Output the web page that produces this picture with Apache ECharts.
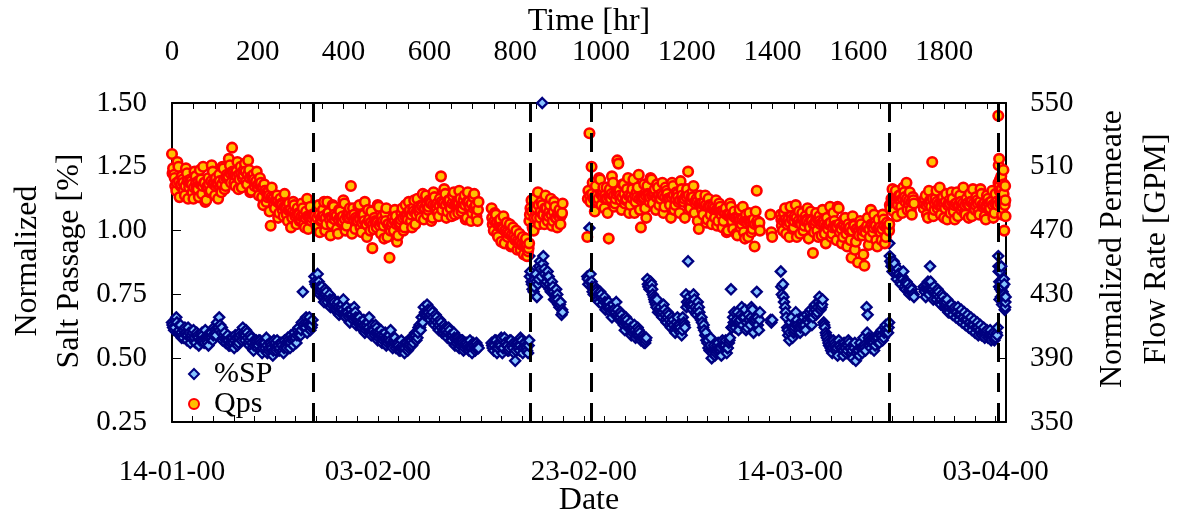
<!DOCTYPE html>
<html>
<head>
<meta charset="utf-8">
<script src="https://cdn.jsdelivr.net/npm/echarts/dist/echarts.min.js"></script>
<style>
  html, body { margin: 0; padding: 0; background: #fff; }
  #chart { width: 1177px; height: 517px; }
</style>
</head>
<body>
<div id="chart"></div>
<script>
// Logging runs: start hour and sampling step of each continuous run of readings.
// Each run has a primary set of readings plus two interleaved sets taken within the same step.
const runStart = [0, 332, 745, 833, 968, 1395, 1419, 1672, 1752, 1926];
const runStep  = [5, 5, 5, 5, 5, 2, 5, 5, 5, 2];

// Normalized salt passage [%] per run
const spRun1 = [0.64,0.61,0.66,0.60,0.63,0.59,0.62,0.57,0.60,0.58,
  0.61,0.56,0.59,0.57,0.60,0.56,0.58,0.55,0.59,0.57,
  0.61,0.64,0.66,0.60,0.58,0.56,0.59,0.55,0.57,0.54,
  0.58,0.56,0.59,0.62,0.57,0.60,0.55,0.58,0.53,0.56,
  0.54,0.57,0.52,0.55,0.58,0.53,0.56,0.51,0.55,0.57,
  0.53,0.56,0.52,0.55,0.58,0.54,0.57,0.60,0.56,0.62,
  0.59,0.76,0.64,0.60,0.66,0.62];
const spRun2 = [0.82,0.78,0.80,0.76,0.74,0.77,0.72,0.75,0.71,0.73,
  0.69,0.72,0.68,0.71,0.67,0.70,0.66,0.69,0.65,0.68,
  0.64,0.66,0.62,0.65,0.61,0.64,0.60,0.63,0.59,0.62,
  0.58,0.61,0.57,0.60,0.56,0.59,0.55,0.57,0.54,0.56,
  0.53,0.55,0.52,0.56,0.54,0.58,0.56,0.60,0.58,0.63,
  0.66,0.70,0.67,0.69,0.65,0.68,0.63,0.66,0.61,0.64,
  0.60,0.62,0.58,0.61,0.57,0.60,0.56,0.58,0.55,0.57,
  0.54,0.56,0.53,0.55,0.56,0.53,0.55];
const spRun3 = [0.56,0.53,0.57,0.54,0.56,0.52,0.58,0.55,0.53,0.57,0.54,0.49,0.56,0.53,0.57,0.54,0.55,0.52];
const spRun4 = [0.90,0.80,0.76,0.83,0.79,0.88,1.50,0.85,0.80,0.82,0.76,0.78,0.73,0.75,0.70,0.67];
const spRun5 = [0.82,1.01,0.80,0.75,0.77,0.73,0.76,0.71,0.74,0.70,
  0.72,0.68,0.71,0.67,0.69,0.65,0.67,0.63,0.66,0.62,
  0.64,0.60,0.63,0.59,0.61,0.57,0.59,0.56,0.81,0.77,
  0.79,0.74,0.71,0.68,0.70,0.66,0.69,0.64,0.67,0.62,
  0.65,0.60,0.66,0.63,0.59,0.64,0.75,0.88,0.72,0.69,
  0.73,0.67,0.70,0.65,0.62,0.59,0.56,0.53,0.50,0.55,
  0.52,0.56,0.53,0.57,0.54,0.52,0.56,0.77,0.66,0.62,
  0.68,0.64,0.70,0.66,0.61,0.67,0.63,0.69,0.64,0.76,
  0.61];
const spRun6 = [0.65,0.64,0.65];
const spRun7 = [0.84,0.79,0.70,0.62,0.57,0.66,0.60,0.68,0.63,0.60,
  0.64,0.62,0.67,0.64,0.69,0.66,0.71,0.68,0.74,0.70,
  0.64,0.60,0.57,0.55,0.52,0.56,0.53,0.57,0.54,0.51,
  0.55,0.53,0.56,0.52,0.55,0.49,0.53,0.56,0.52,0.55,
  0.70,0.58,0.54,0.57,0.55,0.59,0.56,0.61,0.58,0.63,
  0.60];
const spRun8 = [0.95,0.86,0.88,0.83,0.85,0.80,0.82,0.78,0.80,0.76,0.78,0.75];
const spRun9 = [0.78,0.74,0.80,0.86,0.76,0.78,0.73,0.76,0.71,0.74,
  0.70,0.73,0.68,0.71,0.69,0.66,0.70,0.67,0.64,0.68,
  0.65,0.62,0.66,0.63,0.60,0.64,0.61,0.59,0.62,0.60,
  0.58,0.61,0.59,0.57,0.60];
const spRun10 = [0.90,0.78,0.84,0.74,0.80,0.76,0.72,0.79,0.70];

// Second interleaved salt passage set (half a step after each primary reading)
const spRun1b = [0.62,0.65,0.60,0.63,0.58,0.61,0.59,0.62,0.56,0.60,
  0.58,0.60,0.55,0.59,0.57,0.61,0.56,0.60,0.58,0.62,
  0.59,0.62,0.63,0.57,0.60,0.57,0.55,0.58,0.56,0.59,
  0.55,0.60,0.57,0.59,0.61,0.56,0.59,0.54,0.57,0.55,
  0.57,0.53,0.56,0.54,0.52,0.56,0.54,0.57,0.53,0.55,
  0.56,0.53,0.57,0.54,0.56,0.59,0.55,0.58,0.61,0.59,
  0.64,0.62,0.66,0.63,0.61,0.65];
const spRun2b = [0.79,0.83,0.75,0.78,0.72,0.76,0.74,0.70,0.73,0.69,
  0.71,0.67,0.70,0.73,0.66,0.68,0.64,0.67,0.70,0.63,
  0.66,0.62,0.64,0.60,0.63,0.66,0.59,0.61,0.63,0.57,
  0.60,0.56,0.59,0.55,0.58,0.61,0.54,0.58,0.56,0.53,
  0.57,0.54,0.56,0.53,0.57,0.55,0.59,0.57,0.62,0.61,
  0.64,0.68,0.71,0.66,0.69,0.64,0.67,0.62,0.65,0.60,
  0.63,0.59,0.62,0.57,0.59,0.55,0.58,0.54,0.57,0.53,
  0.56,0.54,0.57,0.52,0.54,0.56,0.54];
const spRun3b = [0.54,0.57,0.52,0.55,0.58,0.54,0.56,0.53,0.57,0.55,0.52,0.56,0.54,0.58,0.52,0.56,0.53,0.57];
const spRun4b = [0.84,0.77,0.81,0.74,0.86,0.82,0.90,0.79,0.84,0.77,0.80,0.73,0.77,0.71,0.72,0.68];
const spRun5b = [0.79,0.83,0.76,0.78,0.74,0.72,0.75,0.73,0.69,0.72,
  0.70,0.66,0.69,0.72,0.66,0.68,0.64,0.61,0.65,0.63,
  0.59,0.62,0.58,0.62,0.60,0.58,0.56,0.58,0.78,0.80,
  0.75,0.72,0.73,0.69,0.67,0.71,0.65,0.68,0.63,0.66,
  0.61,0.64,0.62,0.60,0.66,0.62,0.72,0.74,0.70,0.75,
  0.68,0.72,0.66,0.64,0.61,0.57,0.54,0.58,0.52,0.51,
  0.55,0.53,0.51,0.55,0.57,0.54,0.58,0.62,0.68,0.65,
  0.61,0.67,0.63,0.69,0.62,0.65,0.70,0.60,0.66,0.63,
  0.68];
const spRun6b = [];
const spRun7b = [0.75,0.72,0.66,0.59,0.64,0.58,0.62,0.65,0.61,0.63,
  0.66,0.61,0.65,0.68,0.63,0.70,0.67,0.72,0.69,0.73,
  0.62,0.58,0.55,0.53,0.57,0.54,0.51,0.55,0.53,0.56,
  0.52,0.57,0.54,0.50,0.56,0.53,0.51,0.54,0.58,0.53,
  0.67,0.55,0.57,0.53,0.58,0.56,0.60,0.57,0.62,0.60,
  0.64];
const spRun8b = [0.88,0.84,0.87,0.81,0.83,0.79,0.84,0.77,0.79,0.75,0.77,0.74];
const spRun9b = [0.76,0.79,0.75,0.77,0.73,0.75,0.77,0.72,0.75,0.70,
  0.72,0.68,0.71,0.67,0.70,0.68,0.65,0.69,0.66,0.63,
  0.67,0.64,0.61,0.65,0.62,0.59,0.63,0.60,0.58,0.61,
  0.59,0.57,0.60,0.58,0.62];
const spRun10b = [0.84,0.73,0.77,0.86,0.71,0.75,0.81,0.69,0.74];

// Third interleaved salt passage set (a quarter step after each primary reading)
const spRun1c = [0.63,0.62,0.64,0.61,0.60,0.58,0.60,0.59,0.58,0.59,
  0.57,0.59,0.58,0.57,0.59,0.58,0.57,0.58,0.60,0.59,
  0.60,0.62,0.61,0.62,0.59,0.58,0.57,0.56,0.58,0.57,
  0.56,0.58,0.57,0.60,0.59,0.58,0.57,0.56,0.55,0.57,
  0.55,0.56,0.54,0.56,0.55,0.54,0.55,0.53,0.56,0.55,
  0.54,0.55,0.54,0.56,0.57,0.56,0.58,0.57,0.59,0.60,
  0.61,0.63,0.62,0.64,0.63,0.63];
const spRun2c = [0.80,0.79,0.78,0.77,0.75,0.75,0.74,0.73,0.72,0.72,
  0.70,0.70,0.69,0.69,0.68,0.68,0.67,0.67,0.66,0.66,
  0.65,0.64,0.63,0.63,0.62,0.62,0.61,0.61,0.60,0.60,
  0.59,0.59,0.58,0.58,0.57,0.57,0.56,0.56,0.55,0.55,
  0.54,0.54,0.54,0.55,0.55,0.57,0.58,0.59,0.60,0.62,
  0.64,0.67,0.68,0.68,0.67,0.66,0.65,0.64,0.63,0.62,
  0.61,0.61,0.60,0.59,0.59,0.58,0.57,0.57,0.56,0.56,
  0.55,0.55,0.54,0.54,0.55,0.54,0.54];
const spRun3c = [0.55,0.55,0.54,0.56,0.55,0.54,0.56,0.55,0.54,0.55,0.56,0.53,0.55,0.55,0.54,0.56,0.54,0.55];
const spRun4c = [0.82,0.79,0.78,0.80,0.81,0.85,0.87,0.83,0.82,0.79,0.78,0.76,0.75,0.73,0.71,0.69];
const spRun5c = [0.81,0.80,0.78,0.77,0.76,0.75,0.74,0.73,0.72,0.71,
  0.70,0.69,0.69,0.68,0.67,0.66,0.65,0.64,0.64,0.63,
  0.62,0.61,0.61,0.60,0.59,0.58,0.58,0.57,0.79,0.78,
  0.77,0.73,0.70,0.69,0.68,0.68,0.67,0.66,0.65,0.64,
  0.63,0.62,0.63,0.62,0.61,0.63,0.70,0.71,0.71,0.71,
  0.70,0.69,0.68,0.66,0.63,0.60,0.57,0.55,0.53,0.53,
  0.53,0.54,0.54,0.55,0.55,0.54,0.57,0.62,0.64,0.64,
  0.64,0.65,0.66,0.66,0.64,0.65,0.66,0.65,0.65,0.66,
  0.65];
const spRun6c = [];
const spRun7c = [0.78,0.74,0.68,0.61,0.60,0.62,0.61,0.63,0.62,0.62,
  0.63,0.63,0.65,0.66,0.66,0.68,0.69,0.70,0.71,0.71,
  0.63,0.59,0.56,0.54,0.54,0.55,0.54,0.55,0.54,0.53,
  0.54,0.55,0.54,0.53,0.54,0.52,0.53,0.54,0.54,0.54,
  0.60,0.57,0.56,0.56,0.57,0.58,0.59,0.59,0.60,0.61,
  0.62];
const spRun8c = [0.90,0.87,0.86,0.84,0.83,0.82,0.81,0.80,0.79,0.77,0.76,0.75];
const spRun9c = [0.77,0.77,0.77,0.80,0.77,0.76,0.75,0.74,0.73,0.72,
  0.71,0.70,0.70,0.69,0.69,0.68,0.67,0.67,0.66,0.65,
  0.65,0.64,0.63,0.63,0.62,0.62,0.61,0.60,0.60,0.60,
  0.59,0.59,0.59,0.58,0.59];
const spRun10c = [0.86,0.80,0.78,0.77,0.76,0.78,0.75,0.74,0.72];

// Normalized permeate flow rate [GPM] per run
const qpRun1 = [518,505,495,510,498,502,492,506,497,501,
  490,504,496,508,493,500,489,503,495,507,
  492,499,505,494,509,498,503,511,522,500,
  507,496,510,503,512,499,508,495,505,500,
  497,503,491,499,488,494,473,490,484,492,
  481,487,479,485,476,483,478,486,474,481,
  477,484,472,490,479,476];
const qpRun2 = [480,472,486,476,483,470,488,478,474,485,
  479,468,482,476,487,473,480,498,484,471,
  477,486,469,480,474,483,470,459,478,472,
  485,468,476,481,466,453,473,470,479,467,
  475,484,472,480,488,476,484,474,490,481,
  486,477,492,483,488,478,491,484,479,504,
  487,493,482,489,479,494,486,481,490,484,
  492,478,488,476,491,485,476];
const qpRun3 = [484,470,480,466,477,472,462,475,468,460,472,464,458,468,461,455,465,457];
const qpRun4 = [476,489,470,482,494,478,486,474,484,479,490,476,485,472,483,480];
const qpRun5 = [466,531,510,490,498,488,502,493,484,497,
  465,490,500,487,514,495,483,499,489,503,
  486,496,481,494,505,472,490,484,498,488,
  502,493,483,497,490,500,485,495,489,478,
  498,486,493,481,496,488,492,507,484,494,
  481,490,471,487,480,492,477,486,474,483,
  489,476,485,472,481,469,479,485,471,478,
  467,483,474,469,480,466,476,471,460,495,
  473];
const qpRun6 = [480,469,466];
const qpRun7 = [480,470,484,474,466,479,472,486,475,468,
  481,473,477,465,482,456,474,470,479,467,
  476,462,471,485,468,476,464,484,472,466,
  478,460,470,453,474,463,450,476,467,448,
  472,461,483,469,475,460,471,464,477,466,
  473];
const qpRun8 = [474,490,482,495,486,492,481,494,500,487,483,491];
const qpRun9 = [484,492,478,489,513,483,495,486,480,491,
  484,477,489,494,482,487,479,492,485,481,
  490,478,488,496,483,489,480,493,486,477,
  490,484,495,481,488];
const qpRun10 = [542,515,502,490,496,484,508,470,498];

// Second interleaved permeate flow set
const qpRun1b = [509,498,513,491,504,495,509,490,502,494,
  507,497,491,502,510,488,498,494,511,499,
  503,490,497,510,496,505,515,500,506,498,
  513,502,497,508,501,514,494,503,498,507,
  492,500,486,495,491,482,497,486,489,478,
  490,483,493,480,487,472,488,479,484,476,
  487,474,482,471,485,480];
const qpRun2b = [475,484,469,479,488,474,481,467,486,477,
  471,483,475,489,470,478,484,468,480,476,
  485,472,479,488,466,477,482,471,475,486,
  473,479,465,484,474,470,478,483,463,474,
  481,470,486,477,483,472,489,480,485,478,
  493,484,480,489,476,494,486,481,490,483,
  496,478,489,484,492,480,487,495,482,489,
  477,494,485,481,493,479,488];
const qpRun3b = [474,481,468,476,463,479,470,466,474,461,467,470,462,458,466,460,454,462];
const qpRun4b = [484,472,490,478,474,488,480,492,476,486,473,488,478,481,474,487];
const qpRun5b = [495,488,500,482,492,503,486,497,490,481,
  496,504,485,493,512,489,499,487,496,481,
  492,502,488,497,483,491,499,478,492,503,
  487,496,499,486,493,481,497,490,486,500,
  483,494,488,501,489,478,496,485,491,498,
  487,476,492,483,488,475,490,480,485,478,
  473,487,480,476,484,470,487,476,482,468,
  478,472,485,465,475,481,469,477,482,474,
  470];
const qpRun6b = [];
const qpRun7b = [473,481,468,477,485,471,479,466,482,474,
  470,479,484,472,476,469,481,466,474,483,
  468,478,474,466,481,472,485,469,462,477,
  468,474,464,479,458,471,467,474,455,469,
  478,466,473,480,464,477,469,480,462,475,
  470];
const qpRun8b = [484,496,488,479,492,485,497,488,483,494,480,487];
const qpRun9b = [490,480,495,485,479,490,484,497,488,478,
  493,486,481,490,477,494,486,483,497,480,
  487,493,479,485,491,482,496,485,479,492,
  483,488,478,493,486];
const qpRun10b = [511,495,487,504,480,493,499,486,479];

// Third interleaved permeate flow set
const qpRun1c = [506,503,500,501,499,500,498,501,500,499,
  497,500,501,499,498,500,497,499,501,500,
  498,500,501,499,502,503,504,506,507,505,
  504,505,506,505,507,505,503,504,502,501,
  499,498,497,495,494,492,491,490,489,488,
  487,486,485,484,483,483,482,481,480,480,
  479,479,478,479,478,478];
const qpRun2c = [479,478,480,477,479,478,481,477,478,480,
  479,477,478,479,477,480,478,479,477,478,
  476,477,475,476,474,476,475,474,476,475,
  474,475,473,476,474,472,475,476,474,475,
  477,478,479,480,481,480,482,481,483,484,
  485,484,486,485,487,486,485,487,486,488,
  487,486,488,485,487,486,488,487,485,487,
  486,488,485,487,484,486,483];
const qpRun3c = [478,476,475,473,472,471,470,469,468,467,466,465,464,463,462,461,460,459];
const qpRun4c = [480,482,478,484,486,482,480,484,479,482,480,482,478,480,478,481];
const qpRun5c = [490,492,493,491,492,490,493,491,492,490,
  491,493,492,490,494,492,491,493,490,492,
  491,490,492,491,490,489,491,492,493,491,
  492,493,491,492,490,492,491,493,490,491,
  492,490,491,489,492,490,491,492,489,491,
  488,488,487,487,486,486,485,485,484,484,
  483,483,482,482,481,480,480,479,479,478,
  478,477,477,476,476,476,475,475,474,476,
  475];
const qpRun6c = [];
const qpRun7c = [477,476,477,476,475,477,476,478,476,475,
  477,476,476,475,477,474,476,477,476,475,
  474,473,474,475,472,473,472,474,471,473,
  472,471,472,470,473,471,470,472,470,471,
  473,471,474,472,473,471,472,471,473,472,
  472];
const qpRun8c = [486,488,489,488,490,489,490,491,490,489,488,489];
const qpRun9c = [487,486,487,488,490,487,488,487,486,487,
  488,486,487,488,486,487,486,488,487,486,
  487,486,488,487,486,487,488,486,487,486,
  487,488,486,487,488];
const qpRun10c = [500,498,495,494,492,490,493,488,489];

// Hours at which operating periods change (dashed markers)
const breakHours = [329, 834, 978, 1672, 1926];

// Axis tick labels
const dateLabels = ['14-01-00', '03-02-00', '23-02-00', '14-03-00', '03-04-00'];
const dateLabelStepHr = 480;
const timeLabelStepHr = 200;

const spRuns  = [spRun1, spRun2, spRun3, spRun4, spRun5, spRun6, spRun7, spRun8, spRun9, spRun10];
const spRunsB = [spRun1b, spRun2b, spRun3b, spRun4b, spRun5b, spRun6b, spRun7b, spRun8b, spRun9b, spRun10b];
const spRunsC = [spRun1c, spRun2c, spRun3c, spRun4c, spRun5c, spRun6c, spRun7c, spRun8c, spRun9c, spRun10c];
const qpRuns  = [qpRun1, qpRun2, qpRun3, qpRun4, qpRun5, qpRun6, qpRun7, qpRun8, qpRun9, qpRun10];
const qpRunsB = [qpRun1b, qpRun2b, qpRun3b, qpRun4b, qpRun5b, qpRun6b, qpRun7b, qpRun8b, qpRun9b, qpRun10b];
const qpRunsC = [qpRun1c, qpRun2c, qpRun3c, qpRun4c, qpRun5c, qpRun6c, qpRun7c, qpRun8c, qpRun9c, qpRun10c];

// sets: list of [runs, fraction of the step at which that set was logged].
// Points are emitted in time order so later readings overlap earlier ones.
function toPoints(sets) {
  const pts = [];
  runStart.forEach((start, k) => {
    const n = Math.max(...sets.map(([runs]) => runs[k].length));
    for (let i = 0; i < n; i++) {
      sets.forEach(([runs, frac]) => {
        if (i < runs[k].length) pts.push([start + runStep[k] * (i + frac), runs[k][i]]);
      });
    }
  });
  return pts;
}

const FONT = '"Liberation Serif", "Times New Roman", serif';
const black = '#000';

const axisCommon = {
  type: 'value',
  splitLine: { show: false },
  axisLine: { show: true, onZero: false, lineStyle: { color: black, width: 2 } },
  axisTick: { show: true, inside: true, length: 6, lineStyle: { color: black, width: 1 } }
};

const chart = echarts.init(document.getElementById('chart'), null, { renderer: 'canvas' });

chart.setOption({
  animation: false,
  backgroundColor: '#fff',
  grid: { left: 172, right: 171, top: 103, bottom: 95, outerBoundsMode: 'none' },
  legend: {
    data: ['%SP', 'Qps'],
    orient: 'vertical',
    left: 188,
    top: 359,
    padding: 0,
    itemGap: 0,
    itemWidth: 10,
    itemHeight: 10,
    selectedMode: false,
    textStyle: { fontFamily: FONT, fontSize: 30, color: black, lineHeight: 26, padding: [0, 0, 0, 10] }
  },
  xAxis: [
    Object.assign({}, axisCommon, {
      position: 'bottom', min: 0, max: 1944, interval: 48,
      axisLabel: {
        margin: 36, color: black, fontFamily: FONT, fontSize: 29,
        formatter: v => (v % dateLabelStepHr === 0 ? dateLabels[v / dateLabelStepHr] : '')
      }
    }),
    Object.assign({}, axisCommon, {
      position: 'top', min: 0, max: 1944, interval: 50,
      axisLabel: {
        margin: 36, color: black, fontFamily: FONT, fontSize: 29,
        formatter: v => (v % timeLabelStepHr === 0 ? String(v) : '')
      }
    })
  ],
  yAxis: [
    Object.assign({}, axisCommon, {
      position: 'left', min: 0.25, max: 1.5, interval: 0.25,
      axisTick: { show: true, inside: true, length: 9, lineStyle: { color: black, width: 1 } },
      axisLabel: { margin: 25, color: black, fontFamily: FONT, fontSize: 29, formatter: v => v.toFixed(2) }
    }),
    Object.assign({}, axisCommon, {
      position: 'right', min: 350, max: 550, interval: 40,
      axisTick: { show: true, inside: true, length: 9, lineStyle: { color: black, width: 1 } },
      axisLabel: { margin: 24, color: black, fontFamily: FONT, fontSize: 29 }
    })
  ],
  graphic: [
    { type: 'text', x: 589, y: 22, silent: true,
      style: { text: 'Time [hr]', fontFamily: FONT, fontSize: 32, fill: black,
               textAlign: 'center', textVerticalAlign: 'middle', align: 'center', verticalAlign: 'middle' } },
    { type: 'text', x: 589, y: 501, silent: true,
      style: { text: 'Date', fontFamily: FONT, fontSize: 32, fill: black,
               textAlign: 'center', textVerticalAlign: 'middle', align: 'center', verticalAlign: 'middle' } },
    { type: 'text', x: 49, y: 261, rotation: Math.PI / 2, silent: true,
      style: { text: 'Normalized\nSalt Passage [%]', fontFamily: FONT, fontSize: 32, lineHeight: 42, fill: black,
               textAlign: 'center', textVerticalAlign: 'middle', align: 'center', verticalAlign: 'middle' } },
    { type: 'text', x: 1135, y: 249, rotation: Math.PI / 2, silent: true,
      style: { text: 'Normalized Permeate\nFlow Rate [GPM]', fontFamily: FONT, fontSize: 32, lineHeight: 44, fill: black,
               textAlign: 'center', textVerticalAlign: 'middle', align: 'center', verticalAlign: 'middle' } }
  ],
  series: [
    {
      name: '%SP', type: 'scatter', xAxisIndex: 0, yAxisIndex: 0,
      data: toPoints([[spRuns, 0], [spRunsC, 0.25], [spRunsB, 0.5]]),
      symbol: 'diamond', symbolSize: 10,
      itemStyle: { color: '#86C3FF', borderColor: '#000080', borderWidth: 2.4, opacity: 1 },
      emphasis: { disabled: true },
      markLine: {
        silent: true, animation: false,
        symbol: ['none', 'none'],
        label: { show: false },
        lineStyle: { color: black, width: 3, type: [19, 11] },
        emphasis: { disabled: true },
        data: breakHours.map(h => ({ xAxis: h }))
      }
    },
    {
      name: 'Qps', type: 'scatter', xAxisIndex: 0, yAxisIndex: 1,
      data: toPoints([[qpRuns, 0], [qpRunsC, 0.25], [qpRunsB, 0.5]]),
      symbol: 'circle', symbolSize: 9.5,
      itemStyle: { color: '#FFC000', borderColor: '#FF0000', borderWidth: 2.6, opacity: 1 },
      emphasis: { disabled: true }
    }
  ]
});
</script>
</body>
</html>
